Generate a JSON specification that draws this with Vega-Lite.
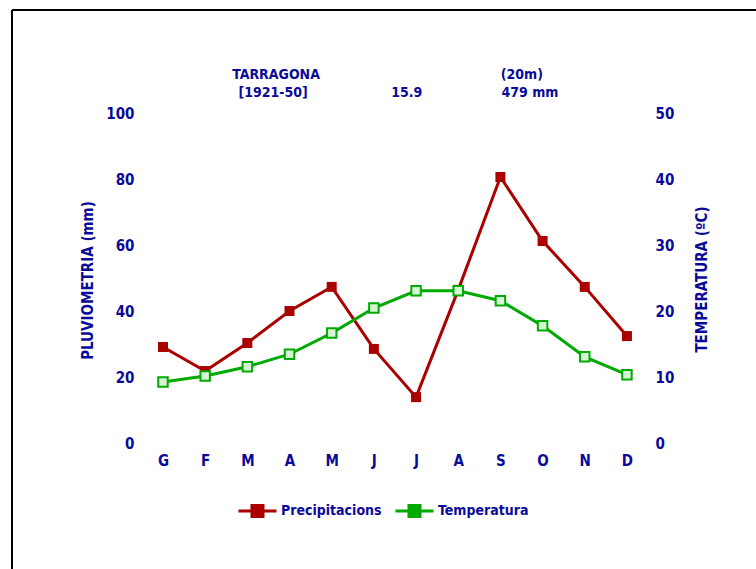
{
  "$schema": "https://vega.github.io/schema/vega-lite/v6.json",
  "width": 744,
  "height": 559,
  "autosize": {"type": "none"},
  "padding": {"left": 12, "top": 10, "right": 0, "bottom": 0},
  "background": "white",
  "config": {
    "view": {"stroke": null},
    "font": "DejaVu Sans Condensed",
    "axis": {"grid": false, "domain": false, "ticks": false, "tickSize": 0}
  },
  "data": {
    "values": [
      {"m": 1, "prec": 29.4, "temp": 9.4},
      {"m": 2, "prec": 22.1, "temp": 10.3},
      {"m": 3, "prec": 30.6, "temp": 11.7},
      {"m": 4, "prec": 40.3, "temp": 13.6},
      {"m": 5, "prec": 47.6, "temp": 16.8},
      {"m": 6, "prec": 28.8, "temp": 20.6},
      {"m": 7, "prec": 14.2, "temp": 23.2},
      {"m": 8, "prec": 46.7, "temp": 23.2},
      {"m": 9, "prec": 80.9, "temp": 21.7},
      {"m": 10, "prec": 61.5, "temp": 17.9},
      {"m": 11, "prec": 47.6, "temp": 13.2},
      {"m": 12, "prec": 32.7, "temp": 10.5}
    ]
  },
  "layer": [
    {
      "layer": [
        {
          "data": {"values": [{}]},
          "mark": {"type": "rule", "color": "black", "strokeWidth": 2},
          "encoding": {
            "y": {"datum": 131.5, "type": "quantitative", "scale": {"domain": [-37.88, 131.5], "nice": false, "zero": false}}
          }
        },
        {
          "data": {"values": [{}]},
          "mark": {"type": "rule", "color": "black", "strokeWidth": 2},
          "encoding": {
            "x": {"datum": -2.58, "type": "quantitative", "scale": {"domain": [-2.58, 15.06], "nice": false, "zero": false}}
          }
        },
        {
          "mark": {"type": "line", "strokeWidth": 3},
          "encoding": {
            "x": {
              "field": "m", "type": "quantitative",
              "scale": {"domain": [-2.58, 15.06], "nice": false, "zero": false},
              "axis": {
                "orient": "bottom", "values": [1,2,3,4,5,6,7,8,9,10,11,12], "title": null,
                "offset": -120, "labelPadding": 4,
                "labelExpr": "['G','F','M','A','M','J','J','A','S','O','N','D'][datum.value-1]",
                "labelFont": "DejaVu Sans Condensed", "labelFontSize": 15, "labelFontWeight": "bold", "labelColor": "#0a0a9a"
              }
            },
            "y": {
              "field": "prec", "type": "quantitative",
              "scale": {"domain": [-37.88, 131.5], "nice": false, "zero": false},
              "axis": {
                "orient": "left", "values": [0,20,40,60,80,100], "title": "PLUVIOMETRIA (mm)",
                "offset": -122, "labelPadding": 0,
                "labelFont": "DejaVu Sans Condensed", "labelFontSize": 15, "labelFontWeight": "bold", "labelColor": "#0a0a9a",
                "titleFont": "DejaVu Sans Condensed", "titleFontSize": 15, "titleFontWeight": "bold", "titleColor": "#0a0a9a",
                "titleX": -47, "titleY": 270, "titleAngle": 270, "titleAlign": "center", "titleBaseline": "middle"
              }
            },
            "color": {
              "datum": "Precipitacions", "type": "nominal",
              "scale": {"domain": ["Precipitacions", "Temperatura"], "range": ["#aa0000", "#00aa00"]},
              "legend": {
                "orient": "none", "legendX": 225, "legendY": 480, "direction": "horizontal", "title": null,
                "symbolType": "M-1,0H1M-0.29,-0.29H0.29V0.29H-0.29Z", "symbolSize": 1444, "symbolStrokeWidth": 3,
                "labelFont": "DejaVu Sans Condensed", "labelFontSize": 14, "labelFontWeight": "bold", "labelColor": "#0a0a9a",
                "labelOffset": 3, "columnPadding": 7,
                "encode": {"symbols": {"update": {"fill": {"scale": "color", "field": "value"}, "stroke": {"scale": "color", "field": "value"}}}}
              }
            }
          }
        },
        {
          "mark": {"type": "square", "size": 100, "color": "#aa0000", "filled": true, "opacity": 1},
          "encoding": {
            "x": {"field": "m", "type": "quantitative", "scale": {"domain": [-2.58, 15.06], "nice": false, "zero": false}},
            "y": {"field": "prec", "type": "quantitative", "scale": {"domain": [-37.88, 131.5], "nice": false, "zero": false}}
          }
        },
        {
          "data": {"values": [{"t": "TARRAGONA"}]},
          "mark": {"type": "text", "font": "DejaVu Sans Condensed", "fontSize": 14, "fontWeight": "bold", "color": "#0a0a9a"},
          "encoding": {
            "x": {"datum": 3.68, "type": "quantitative", "scale": {"domain": [-2.58, 15.06], "nice": false, "zero": false}},
            "y": {"datum": 111.8, "type": "quantitative", "scale": {"domain": [-37.88, 131.5], "nice": false, "zero": false}},
            "text": {"field": "t"}
          }
        },
        {
          "data": {"values": [{"t": "[1921-50]"}]},
          "mark": {"type": "text", "font": "DejaVu Sans Condensed", "fontSize": 14, "fontWeight": "bold", "color": "#0a0a9a"},
          "encoding": {
            "x": {"datum": 3.61, "type": "quantitative", "scale": {"domain": [-2.58, 15.06], "nice": false, "zero": false}},
            "y": {"datum": 106.2, "type": "quantitative", "scale": {"domain": [-37.88, 131.5], "nice": false, "zero": false}},
            "text": {"field": "t"}
          }
        },
        {
          "data": {"values": [{"t": "15.9"}]},
          "mark": {"type": "text", "font": "DejaVu Sans Condensed", "fontSize": 14, "fontWeight": "bold", "color": "#0a0a9a"},
          "encoding": {
            "x": {"datum": 6.78, "type": "quantitative", "scale": {"domain": [-2.58, 15.06], "nice": false, "zero": false}},
            "y": {"datum": 106.2, "type": "quantitative", "scale": {"domain": [-37.88, 131.5], "nice": false, "zero": false}},
            "text": {"field": "t"}
          }
        },
        {
          "data": {"values": [{"t": "(20m)"}]},
          "mark": {"type": "text", "font": "DejaVu Sans Condensed", "fontSize": 14, "fontWeight": "bold", "color": "#0a0a9a"},
          "encoding": {
            "x": {"datum": 9.51, "type": "quantitative", "scale": {"domain": [-2.58, 15.06], "nice": false, "zero": false}},
            "y": {"datum": 111.8, "type": "quantitative", "scale": {"domain": [-37.88, 131.5], "nice": false, "zero": false}},
            "text": {"field": "t"}
          }
        },
        {
          "data": {"values": [{"t": "479 mm"}]},
          "mark": {"type": "text", "font": "DejaVu Sans Condensed", "fontSize": 14, "fontWeight": "bold", "color": "#0a0a9a"},
          "encoding": {
            "x": {"datum": 9.7, "type": "quantitative", "scale": {"domain": [-2.58, 15.06], "nice": false, "zero": false}},
            "y": {"datum": 106.2, "type": "quantitative", "scale": {"domain": [-37.88, 131.5], "nice": false, "zero": false}},
            "text": {"field": "t"}
          }
        }
      ]
    },
    {
      "layer": [
        {
          "mark": {"type": "line", "strokeWidth": 3},
          "encoding": {
            "x": {"field": "m", "type": "quantitative", "scale": {"domain": [-2.58, 15.06], "nice": false, "zero": false}},
            "y": {
              "field": "temp", "type": "quantitative",
              "scale": {"domain": [-18.94, 65.75], "nice": false, "zero": false},
              "axis": {
                "orient": "right", "values": [0,10,20,30,40,50], "title": "TEMPERATURA (ºC)",
                "offset": -101, "labelPadding": 0,
                "labelFont": "DejaVu Sans Condensed", "labelFontSize": 15, "labelFontWeight": "bold", "labelColor": "#0a0a9a",
                "titleFont": "DejaVu Sans Condensed", "titleFontSize": 15, "titleFontWeight": "bold", "titleColor": "#0a0a9a",
                "titleX": 46, "titleY": 269, "titleAngle": 270, "titleAlign": "center", "titleBaseline": "middle"
              }
            },
            "color": {"datum": "Temperatura", "type": "nominal"}
          }
        },
        {
          "mark": {"type": "square", "size": 90, "fill": "#d6f5d6", "stroke": "#00aa00", "strokeWidth": 2, "filled": true, "opacity": 1},
          "encoding": {
            "x": {"field": "m", "type": "quantitative", "scale": {"domain": [-2.58, 15.06], "nice": false, "zero": false}},
            "y": {"field": "temp", "type": "quantitative", "scale": {"domain": [-18.94, 65.75], "nice": false, "zero": false}}
          }
        }
      ]
    }
  ],
  "resolve": {"scale": {"y": "independent"}}
}
